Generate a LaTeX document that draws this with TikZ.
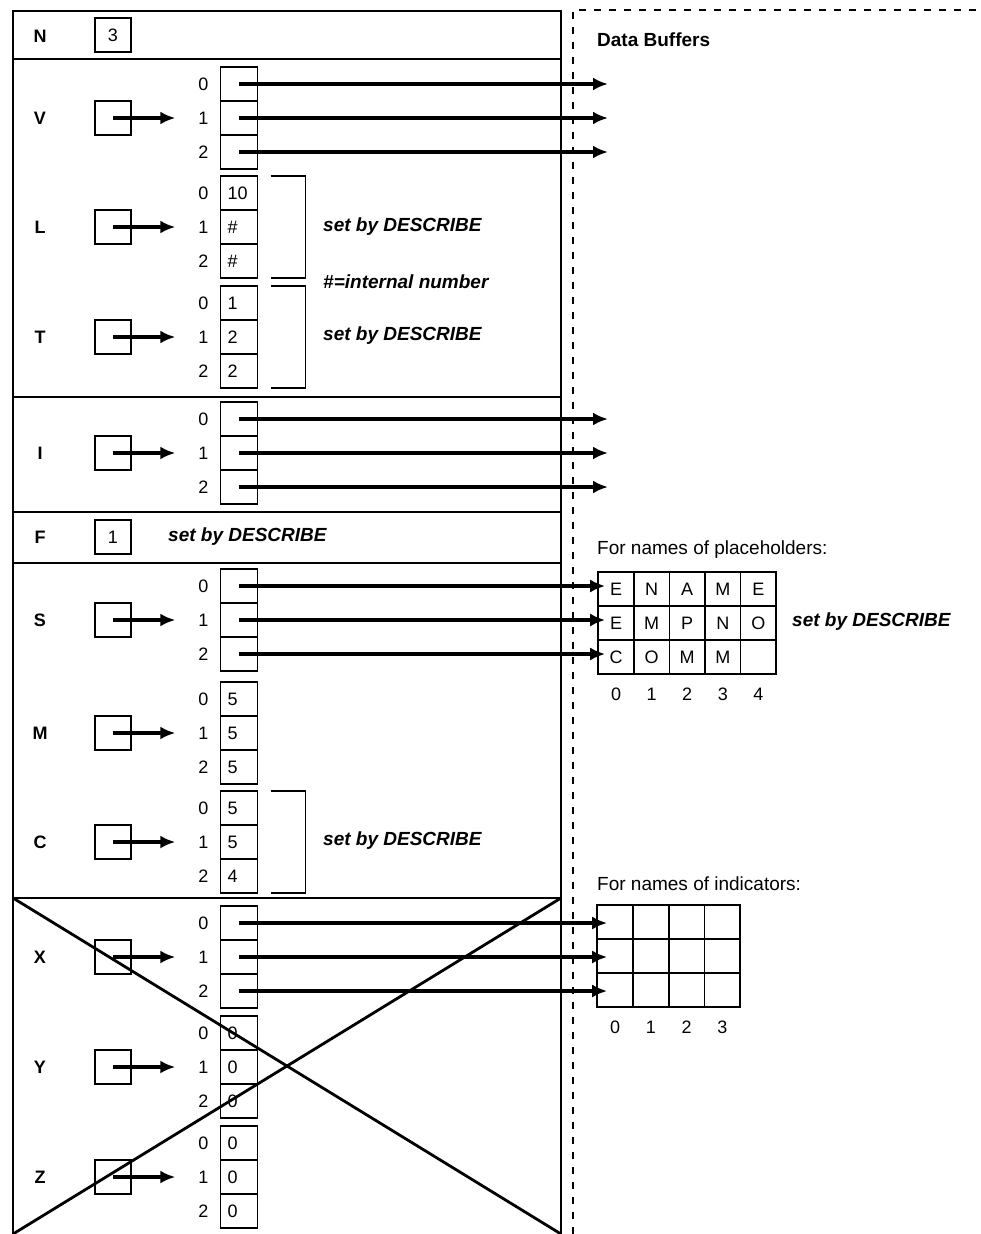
\documentclass[tikz,border=0pt]{standalone}
\usepackage{fontspec}
\setmainfont{Liberation Sans}
\usetikzlibrary{arrows.meta,positioning}

\begin{document}
\begin{tikzpicture}[
        x=1pt, y=-1pt,
        every node/.style={font=\fontsize{18}{20}\selectfont},
        frame/.style={line width=1.6pt},
        cell/.style={draw, line width=1.6pt, outer sep=0pt, minimum height=34pt,
            text width=23pt, inner xsep=7pt, inner ysep=0pt, align=left},
        ptrbox/.style={draw, line width=1.6pt, minimum width=36pt, minimum height=34pt, inner sep=0pt},
        gcell/.style={draw, line width=1.6pt, outer sep=0pt, minimum width=35.6pt, minimum height=34pt, inner sep=0pt},
        ptr/.style={line width=3.4pt, -{Latex[length=15pt,width=13pt]}},
        idx/.style={inner sep=0pt},
        varname/.style={font=\fontsize{18}{20}\selectfont\bfseries, inner sep=0pt},
        setby/.style={font=\fontsize{19}{22}\selectfont\bfseries\itshape, anchor=west, inner sep=0pt},
        caption/.style={font=\fontsize{19}{22}\selectfont, anchor=west, inner sep=0pt},
        buffer/.style={line width=1.4pt, dash pattern=on 7pt off 8pt}
    ]
        \useasboundingbox (0,0) rectangle (981,1234);

        % Bereich links
        \draw[frame] (13,1234) -- (13,11) -- (561,11) -- (561,1234);
        \foreach \y in {59,397,512,563,898}
            \draw[frame] (13,\y) -- (561,\y);
        \draw[buffer] (573,1234) -- (573,10) -- (981,10);

        \node[varname] (N) at (40,36) {N};
        \node[ptrbox] (Nval) at (113,35) {3};
        \node[varname] (F) at (40,537) {F};
        \node[ptrbox] (Fval) at (113,537) {1};
        \node[setby] (descF) at (168,537) {set by DESCRIBE};

        % Felder mit Zeigern
        \foreach \a/\t/\p/\q/\r in {V/67/{}/{}/{}, L/176/10/\#/\#, T/286/1/2/2, I/402/{}/{}/{},
                S/569/{}/{}/{}, M/682/5/5/5, C/791/5/5/4, X/906/{}/{}/{}, Y/1016/0/0/0, Z/1126/0/0/0} {
            \node[cell] (\a0) at (239,\t+17) {\p};
            \node[cell, below=0pt of \a0] (\a1) {\q};
            \node[cell, below=0pt of \a1] (\a2) {\r};
            \foreach \i in {0,1,2}
                \node[idx, left=12pt of \a\i] (i\a\i) {\i};
            \node[varname] (\a) at (40,\t+51) {\a};
            \node[ptrbox] (p\a) at (113,\t+51) {};
            \draw[ptr] (p\a.center) -- ([xshift=-28pt]i\a1.center);
        }

        % Klammern
        \foreach \a in {L,T,C}
            \draw[frame] ([xshift=13pt]\a0.north east) -| ([xshift=48pt]\a2.south east)
                -- ([xshift=13pt]\a2.south east);
        \node[setby] (descL) at (323,227) {set by DESCRIBE};
        \node[setby] (intnum) at (323,282) {\#=internal number};
        \node[setby] (descT) at (323,336) {set by DESCRIBE};
        \node[setby] (descC) at (323,841) {set by DESCRIBE};

        % Datenpuffer
        \node[caption, font=\fontsize{19}{22}\selectfont\bfseries] (buf) at (597,40) {Data Buffers};
        \coordinate (bufx) at (608,0);
        \foreach \a in {V,I}
            \foreach \i in {0,1,2}
                \draw[ptr] (\a\i.center) -- (\a\i.center -| bufx);

        % Namen der Platzhalter
        \node[caption] (phname) at (597,550) {For names of placeholders:};
        \foreach \r/\l in {0/{E,N,A,M,E}, 1/{E,M,P,N,O}, 2/{C,O,M,M,{}}}
            \foreach \ch [count=\c from 0] in \l
                \node[gcell] (P\r\c) at (616+35.6*\c,589+34*\r) {\ch};
        \foreach \c in {0,...,4}
            \node[idx, below=14pt of P2\c] (iP\c) {\c};
        \node[setby] (descS) at (792,622) {set by DESCRIBE};
        \foreach \i in {0,1,2}
            \draw[ptr, shorten >=-7pt] (S\i.center) -- (S\i.center -| P\i0.west);

        % Namen der Indikatoren
        \node[caption] (indname) at (597,884) {For names of indicators:};
        \foreach \r in {0,1,2}
            \foreach \c in {0,...,3}
                \node[gcell] (K\r\c) at (615+35.8*\c,922+34*\r) {};
        \foreach \c in {0,...,3}
            \node[idx, below=14pt of K2\c] (iK\c) {\c};
        \foreach \i in {0,1,2}
            \draw[ptr, shorten >=-10pt] (X\i.center) -- (X\i.center -| K\i0.west);

        % durchgestrichen
        \coordinate (xtl) at (13,898);
        \coordinate (xtr) at (561,898);
        \coordinate (xbl) at (13,1234);
        \coordinate (xbr) at (561,1234);
        \draw[line width=2.8pt] (xtl) -- (xbr);
        \draw[line width=2.8pt] (xbl) -- (xtr);
    \end{tikzpicture}
\end{document}
